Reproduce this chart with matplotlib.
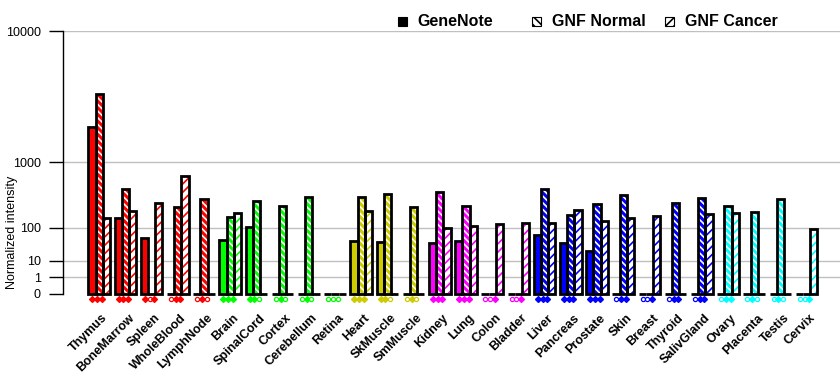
import numpy as np
import matplotlib
matplotlib.use("Agg")
import matplotlib.pyplot as plt
from matplotlib.patches import Rectangle

plt.rcParams['font.family'] = ['Liberation Sans', 'DejaVu Sans']
plt.rcParams['hatch.linewidth'] = 1.2

tissues = ['Thymus', 'BoneMarrow', 'Spleen', 'WholeBlood', 'LymphNode',
           'Brain', 'SpinalCord', 'Cortex', 'Cerebellum', 'Retina',
           'Heart', 'SkMuscle', 'SmMuscle',
           'Kidney', 'Lung', 'Colon', 'Bladder',
           'Liver', 'Pancreas', 'Prostate', 'Skin', 'Breast', 'Thyroid', 'SalivGland',
           'Ovary', 'Placenta', 'Testis', 'Cervix']

genenote = [2200, 160, 58, 0, 0,
            51, 103, 0, 0, 0,
            49, 46, 0,
            43, 49, 0, 0,
            70, 43, 23, 0, 0, 0, 0,
            0, 0, 0, 0]
gnf_normal = [4000, 470, 0, 250, 340,
              170, 315, 262, 362, 0,
              362, 400, 252,
              430, 262, 0, 0,
              470, 185, 280, 388, 0, 294, 350,
              262, 208, 334, 0]
gnf_cancer = [160, 215, 294, 700, 0,
              200, 0, 0, 0, 0,
              214, 0, 0,
              98, 112, 119, 125,
              130, 225, 141, 160, 176, 0, 187,
              197, 0, 0, 93]

# present (1) / absent (0) calls: GeneNote, GNF Normal, GNF Cancer
calls = [(1, 1, 1), (1, 1, 1), (1, 0, 1), (0, 1, 1), (0, 1, 0),
         (1, 1, 1), (1, 1, 0), (0, 1, 0), (0, 1, 0), (0, 0, 0),
         (1, 1, 1), (1, 1, 0), (0, 1, 0),
         (1, 1, 1), (1, 1, 1), (0, 0, 1), (0, 0, 1),
         (1, 1, 1), (1, 1, 1), (1, 1, 1), (0, 1, 1), (0, 0, 1), (0, 1, 1), (0, 1, 1),
         (0, 1, 1), (0, 1, 0), (0, 1, 0), (0, 0, 1)]

colors = (['#FF0000'] * 5 + ['#00FF00'] * 5 + ['#CCCC00'] * 3 +
          ['#FF00FF'] * 4 + ['#0000FF'] * 7 + ['#00FFFF'] * 4)

yticks = [0, 1, 10, 100, 1000, 10000]


def fwd(v):
    v = np.asarray(v, dtype=float)
    return np.sign(v) * np.abs(v) ** 0.3


def inv(v):
    v = np.asarray(v, dtype=float)
    return np.sign(v) * np.abs(v) ** (1 / 0.3)


fig = plt.figure(figsize=(8.4, 3.85), dpi=100)
ax = fig.add_axes([63 / 840, 1 - 294 / 385, 777 / 840, 263 / 385])
ax.set_yscale('function', functions=(fwd, inv))

n = len(tissues)
x = np.arange(n)
w = 0.275
series = [genenote, gnf_normal, gnf_cancer]

for k, vals in enumerate(series):
    xs = x + (k - 1) * w
    for i in range(n):
        c = colors[i]
        v = vals[i]
        if v > 0:
            if k == 0:
                ax.bar(xs[i], v, w, color=c, linewidth=0, zorder=2)
            elif k == 1:
                ax.bar(xs[i], v, w, facecolor=c, edgecolor='white',
                       hatch='\\\\\\\\\\', linewidth=0, zorder=2)
            else:
                ax.bar(xs[i], v, w, facecolor='white', edgecolor=c,
                       hatch='////', linewidth=0, zorder=2)
        ax.bar(xs[i], v, w, fill=False, edgecolor='black', linewidth=2,
               zorder=3, clip_on=False)

# present / absent markers under each bar
trans = ax.get_xaxis_transform()
for i in range(n):
    for k in range(3):
        mx = x[i] - 0.076 + (k - 1) * 0.18
        if calls[i][k]:
            ax.plot(mx, -0.018, marker='D', ms=3.0, color=colors[i],
                    mec=colors[i], transform=trans, clip_on=False, zorder=4)
        else:
            ax.plot(mx, -0.018, marker='o', ms=3.0, mfc='white',
                    mec=colors[i], mew=0.9, transform=trans, clip_on=False,
                    zorder=4)

ax.set_xlim(-1.38, -1.38 + 777 / 26.2)
ax.set_ylim(0, 10000)
ax.set_yticks(yticks)
ax.set_yticklabels([str(t) for t in yticks], fontsize=9)
for t in yticks[1:]:
    ax.axhline(t, color='#C0C0C0', linewidth=1, zorder=1)

ax.set_xticks(x + 0.1)
ax.set_xticklabels(tissues, rotation=45, ha='right', rotation_mode='anchor',
                   fontsize=9, fontweight='bold')
ax.tick_params(axis='x', length=0, pad=13)
ax.tick_params(axis='y', length=10, width=1, pad=6)

for s in ['top', 'right', 'bottom']:
    ax.spines[s].set_visible(False)
ax.spines['left'].set_linewidth(1)

ax.set_ylabel('Normalized intensity', fontsize=9)
ax.yaxis.set_label_coords(-0.058, 0.236)

# legend drawn above the axes
leg_names = ['GeneNote', 'GNF Normal', 'GNF Cancer']
leg_box_x = [398, 532, 665]
leg_txt_x = [417, 552, 685]
for k in range(3):
    bx = leg_box_x[k] / 840
    by = 1 - 26 / 385
    if k == 0:
        r = Rectangle((bx, by), 9 / 840, 9 / 385, transform=fig.transFigure,
                      facecolor='black', edgecolor='black', linewidth=0.8)
    else:
        r = Rectangle((bx, by), 9 / 840, 9 / 385, transform=fig.transFigure,
                      facecolor='white', edgecolor='black', linewidth=0.8,
                      hatch='\\\\\\\\' if k == 1 else '////')
    fig.add_artist(r)
    fig.text(leg_txt_x[k] / 840, 1 - 21 / 385, leg_names[k], fontsize=11.5,
             fontweight='bold', va='center', ha='left')

fig.savefig('out.png', dpi=100)
